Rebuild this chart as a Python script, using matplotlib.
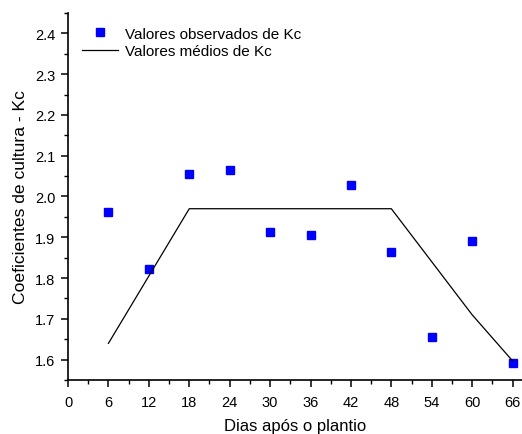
import matplotlib.pyplot as plt
from matplotlib.ticker import MultipleLocator

plt.rcParams['font.family'] = ['Liberation Sans', 'DejaVu Sans']

# observed Kc values
dias_obs = [6, 12, 18, 24, 30, 36, 42, 48, 54, 60, 66]
kc_obs = [1.962, 1.823, 2.055, 2.064, 1.914, 1.905, 2.029, 1.863, 1.655, 1.891, 1.591]

# mean Kc curve
dias_med = [6, 12, 18, 24, 30, 36, 42, 48, 54, 60, 66]
kc_med = [1.64, 1.805, 1.97, 1.97, 1.97, 1.97, 1.97, 1.97, 1.84, 1.71, 1.597]

xticks = [0, 6, 12, 18, 24, 30, 36, 42, 48, 54, 60, 66]
yticks = [1.6, 1.7, 1.8, 1.9, 2.0, 2.1, 2.2, 2.3, 2.4]

fig = plt.figure(figsize=(5.22, 4.35), dpi=100)
ax = fig.add_axes([0.1303, 0.124, 0.8697, 0.844])

ax.plot(dias_obs, kc_obs, linestyle='none', marker='s', color='#0000ff',
        markersize=5.5, label='Valores observados de Kc')
ax.plot(dias_med, kc_med, color='black', linewidth=0.9, label='Valores médios de Kc')

ax.set_xlim(0, 67.4)
ax.set_ylim(1.55, 2.45)
ax.set_xticks(xticks)
ax.set_yticks(yticks)
ax.xaxis.set_minor_locator(MultipleLocator(3))
ax.yaxis.set_minor_locator(MultipleLocator(0.05))

for side in ['top', 'right']:
    ax.spines[side].set_visible(False)
for side in ['left', 'bottom']:
    ax.spines[side].set_linewidth(1.2)

ax.tick_params(which='major', direction='out', length=5, width=1.1, labelsize=10.5)
ax.tick_params(axis='x', which='major', pad=6)
ax.tick_params(axis='y', which='major', pad=4)
ax.tick_params(which='minor', direction='out', length=3, width=1.0)

ax.set_xlabel('Dias após o plantio', fontsize=12, labelpad=6)
ax.set_ylabel('Coeficientes de cultura - Kc', fontsize=12.6, labelpad=5)

ax.legend(loc='upper left', bbox_to_anchor=(0.0, 1.0), frameon=False, fontsize=11,
          handlelength=2.4, handletextpad=0.4, borderaxespad=0.5, labelspacing=0.25)

fig.savefig('out.png', dpi=100)
